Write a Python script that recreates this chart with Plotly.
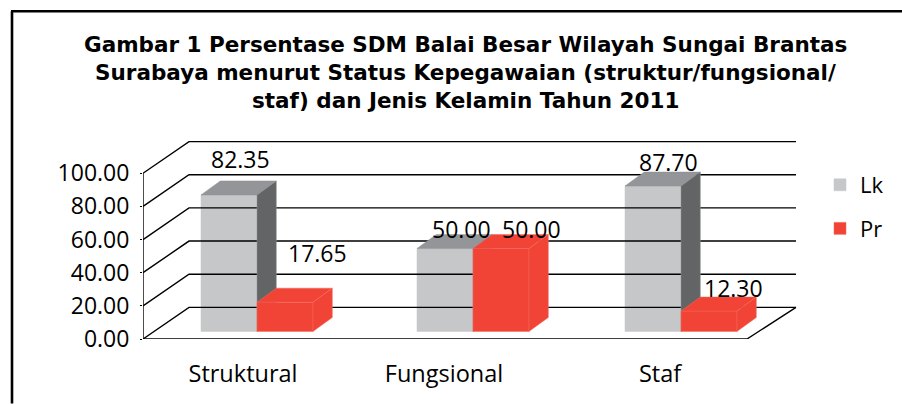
import plotly.graph_objects as go

# ---- data ----
categories = ["Struktural", "Fungsional", "Staf"]
lk_values = [82.35, 50.00, 87.70]
pr_values = [17.65, 50.00, 12.30]
y_ticks = [0, 20, 40, 60, 80, 100]
title_lines = [
    "Gambar 1 Persentase SDM Balai Besar Wilayah Sungai Brantas",
    "Surabaya menurut Status Kepegawaian (struktur/fungsional/",
    "staf) dan Jenis Kelamin Tahun 2011",
]

# ---- layout constants ----
W, H = 902, 404
L, R, T, B = 143, 105, 139, 64.7
FONT = "Open Sans"
TITLE_FONT = "DejaVu Sans"
TITLE_SIZE = 21.5
title_centers = [(465, 44), (465, 72), (465, 100)]
PX = 1.66                 # pixels per value unit
X_MAX = W - L - R
Y_MAX = (H - B - T) / PX
WALL_DX, WALL_DY = 46, 31.7 / PX
FLOOR_W = 604
BASE = 7.6 / PX
BAR_W = 56
SIDE_DX, SIDE_DY = 19.3, 14 / PX
group_centers = [114, 330, 538]
tick_centers = [100, 301, 517]
lk_label_shift = [(11, -36), (16, -20), (15, -24)]
pr_label_shift = [(32, -49), (30, -20), (24, -23)]

C_LK = ("#C6C7C9", "#939598", "#636466")
C_PR = ("#F14436", "#F14436", "#F14436")
EDGE_PR = "#F2695D"

fig = go.Figure()


def line(xs, ys):
    fig.add_trace(go.Scatter(x=xs, y=ys, mode="lines", showlegend=False, hoverinfo="skip",
                             line=dict(color="black", width=1.4), xaxis="x", yaxis="y"))


# back wall and floor
for v in y_ticks:
    line([0, WALL_DX, X_MAX - 1], [v, v + WALL_DY, v + WALL_DY])
line([0, 0], [0, 100])
line([0, FLOOR_W, FLOOR_W + WALL_DX + 3], [0, 0, WALL_DY])


def series(name, values, offset, colors, edge, face_edge, xa, ya):
    xs = [c + offset for c in group_centers]
    fig.add_trace(go.Bar(x=xs, y=values, base=BASE, width=BAR_W, name=name, legendgroup=name,
                         marker=dict(color=colors[0], line=dict(color=face_edge, width=0.5)),
                         xaxis=xa, yaxis=ya, hoverinfo="skip"))
    for x, v in zip(xs, values):
        x0, x1 = x - BAR_W / 2, x + BAR_W / 2
        top = BASE + v
        # top face
        fig.add_trace(go.Scatter(
            x=[x0, x1, x1 + SIDE_DX, x0 + SIDE_DX, x0],
            y=[top, top, top + SIDE_DY, top + SIDE_DY, top],
            fill="toself", fillcolor=colors[1], mode="lines",
            line=dict(color=edge, width=0.5), showlegend=False, hoverinfo="skip",
            xaxis=xa, yaxis=ya))
        # side face
        fig.add_trace(go.Scatter(
            x=[x1, x1 + SIDE_DX, x1 + SIDE_DX, x1, x1],
            y=[BASE, BASE + SIDE_DY, top + SIDE_DY, top, BASE],
            fill="toself", fillcolor=colors[2], mode="lines",
            line=dict(color=edge, width=0.5), showlegend=False, hoverinfo="skip",
            xaxis=xa, yaxis=ya))


series("Lk", lk_values, -BAR_W / 2, C_LK, "#8F9092", C_LK[0], "x", "y")
series("Pr", pr_values, BAR_W / 2, C_PR, EDGE_PR, EDGE_PR, "x2", "y2")

annotations = []
for values, offset, shifts in ((lk_values, -BAR_W / 2, lk_label_shift),
                               (pr_values, BAR_W / 2, pr_label_shift)):
    for c, v, (sx, sy) in zip(group_centers, values, shifts):
        annotations.append(dict(x=c + offset, y=BASE + v, xref="x", yref="y",
                                text=f"{v:.2f}", showarrow=False, xshift=sx, yshift=-sy,
                                font=dict(family=FONT, size=23, color="black"),
                                xanchor="center", yanchor="middle"))


def px(x):
    return (x - L) / X_MAX


def py(y):
    return (H - B - y) / (H - T - B)


for text, (cx, cy) in zip(title_lines, title_centers):
    annotations.append(dict(x=px(cx), y=py(cy), xref="paper", yref="paper", text=text,
                            showarrow=False, xanchor="center", yanchor="middle",
                            font=dict(family=TITLE_FONT, size=TITLE_SIZE, color="black",
                                      weight="bold")))

frame = dict(type="line", xref="paper", yref="paper", line=dict(color="black", width=2.6))
shapes = [
    dict(frame, x0=px(12), x1=px(12), y0=py(11), y1=py(H)),
    dict(frame, x0=px(11), x1=px(W), y0=py(11), y1=py(11)),
]

axis_common = dict(showgrid=False, zeroline=False, showline=False)
fig.update_layout(
    width=W, height=H, margin=dict(l=L, r=R, t=T, b=B, pad=0),
    paper_bgcolor="white", plot_bgcolor="rgba(0,0,0,0)",
    barmode="overlay", shapes=shapes, annotations=annotations,
    font=dict(family=FONT, color="black"),
    xaxis=dict(range=[0, X_MAX], tickmode="array", tickvals=tick_centers, ticktext=categories,
               ticks="", ticklabelstandoff=18, tickfont=dict(family=FONT, size=23.5, color="black"),
               **axis_common),
    yaxis=dict(range=[0, Y_MAX], tickmode="array", tickvals=y_ticks,
               ticktext=[f"{v:.2f}" for v in y_ticks], ticks="outside", ticklen=2,
               tickcolor="black", ticklabelstandoff=6,
               tickfont=dict(family=FONT, size=23, color="black"), **axis_common),
    xaxis2=dict(range=[0, X_MAX], overlaying="x", visible=False),
    yaxis2=dict(range=[0, Y_MAX], overlaying="y", visible=False),
    legend=dict(x=px(820), y=py(164), xanchor="left", yanchor="top", xref="paper", yref="paper",
                tracegroupgap=12, font=dict(family=FONT, size=22, color="black"),
                bgcolor="rgba(0,0,0,0)", itemclick=False, itemdoubleclick=False,
                traceorder="grouped"),
)

fig.write_html("out.html", config=dict(displayModeBar=False),
               post_script="document.body.style.margin='0';")
